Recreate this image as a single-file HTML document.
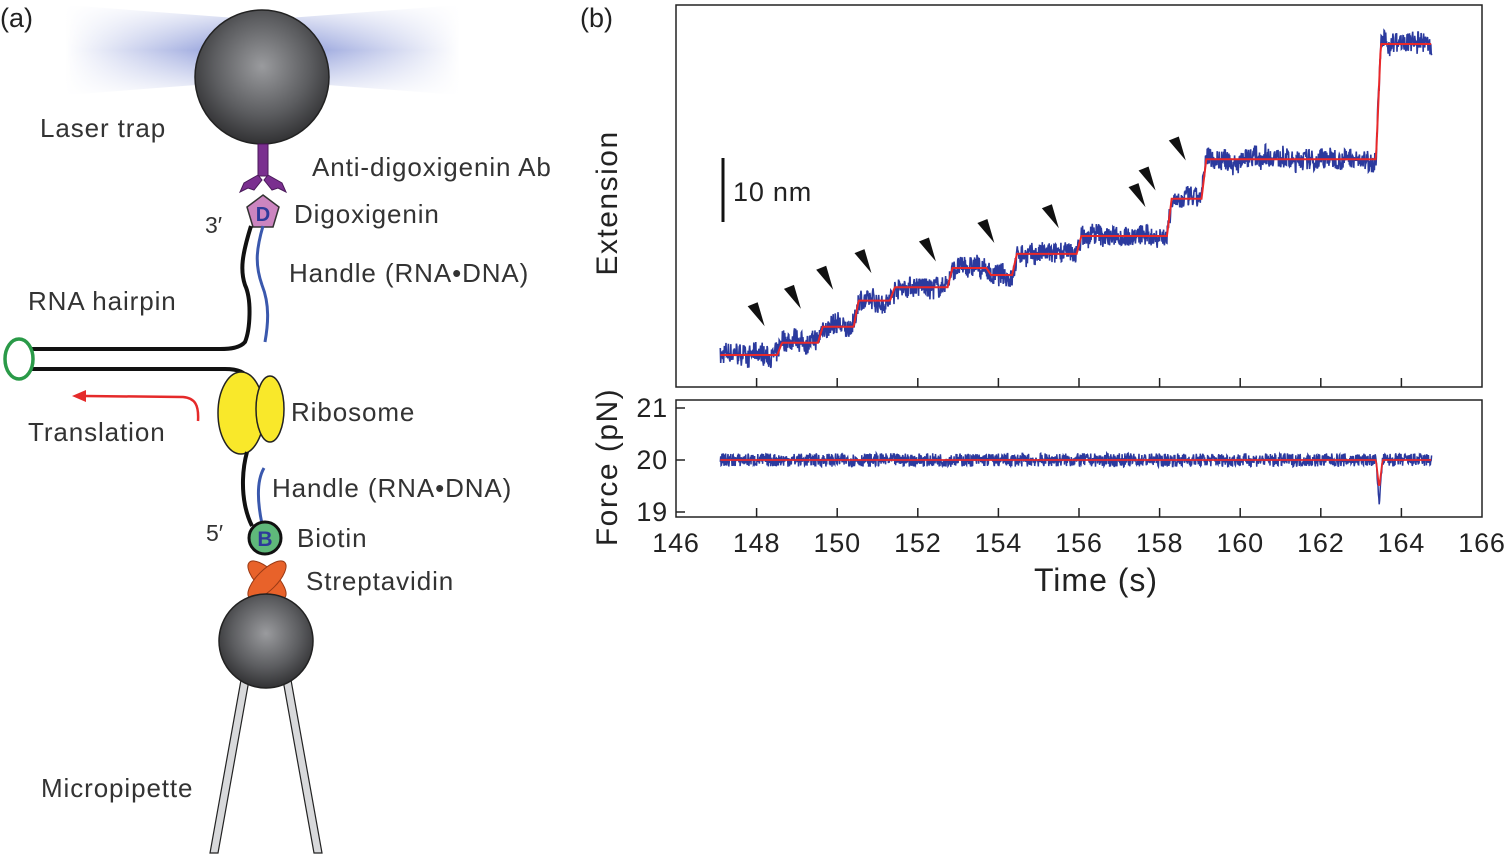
<!DOCTYPE html>
<html><head><meta charset="utf-8">
<style>
html,body{margin:0;padding:0;background:#fff;}
svg{display:block;font-family:"Liberation Sans",Arial,sans-serif;}
.lbl{font-size:26px;letter-spacing:0.9px;fill:#333;}
</style></head>
<body>
<svg id="fig" width="1506" height="855" viewBox="0 0 1506 855">
<defs>
<radialGradient id="bead" cx="0.5" cy="0.42" r="0.6">
<stop offset="0" stop-color="#9a9b9e"/><stop offset="0.6" stop-color="#5c5d60"/><stop offset="1" stop-color="#2e2e30"/>
</radialGradient>
<linearGradient id="glowL" x1="0" x2="1"><stop offset="0" stop-color="#5a6ec8" stop-opacity="0"/><stop offset="1" stop-color="#5a6ec8" stop-opacity="0.95"/></linearGradient>
<linearGradient id="glowR" x1="1" x2="0"><stop offset="0" stop-color="#5a6ec8" stop-opacity="0"/><stop offset="1" stop-color="#5a6ec8" stop-opacity="0.95"/></linearGradient>
<linearGradient id="glowV" x1="0" y1="0" x2="0" y2="1"><stop offset="0" stop-color="#fff" stop-opacity="0.95"/><stop offset="0.5" stop-color="#fff" stop-opacity="0"/><stop offset="1" stop-color="#fff" stop-opacity="0.95"/></linearGradient>
</defs>

<!-- Panel (a) -->
<g>
<text x="0" y="27" font-size="27" fill="#222">(a)</text>
<g>
<polygon points="65,5 262,20 262,80 65,95" fill="url(#glowL)" opacity="0.85"/>
<polygon points="460,5 262,20 262,80 460,95" fill="url(#glowR)" opacity="0.85"/>
<rect x="65" y="3" width="395" height="94" fill="url(#glowV)"/>
</g>
<circle cx="262" cy="77" r="67" fill="url(#bead)" stroke="#222" stroke-width="1.5"/>
<text x="40" y="137" class="lbl">Laser trap</text>
<g fill="#7a2f8f" stroke="#4a1a5a" stroke-width="1">
<rect x="258" y="144" width="10" height="32"/>
<polygon points="258,175 244,183 240,192 248,188 254,190 262,180"/>
<polygon points="268,175 282,183 286,192 278,188 272,190 264,180"/>
</g>
<text x="312" y="176" class="lbl">Anti-digoxigenin Ab</text>
<polygon points="263,195 279,207 273,227 253,227 247,207" fill="#cc85c0" stroke="#333" stroke-width="1.5"/>
<text x="263" y="221" font-size="20" font-weight="bold" fill="#2e3a9a" text-anchor="middle">D</text>
<text x="294" y="223" class="lbl">Digoxigenin</text>
<text x="205" y="233" font-size="23" fill="#333">3′</text>
<path d="M251,226 C242,255 240,270 245,285 C252,300 250,330 245,342 C240,348 230,349 220,349 L30,349" fill="none" stroke="#111" stroke-width="4"/>
<path d="M263,226 C256,250 255,265 262,285 C270,305 268,325 265,342" fill="none" stroke="#3a58ad" stroke-width="3"/>
<text x="289" y="282" class="lbl">Handle (RNA•DNA)</text>
<text x="28" y="310" class="lbl">RNA hairpin</text>
<path d="M30,369 L225,369 C238,369 245,372 250,380" fill="none" stroke="#111" stroke-width="4"/>
<ellipse cx="19" cy="359" rx="14" ry="20" fill="none" stroke="#2a9a48" stroke-width="3.5"/>
<g>
<ellipse cx="241" cy="413" rx="23" ry="41" fill="#f9e82a" stroke="#222" stroke-width="1.5"/>
<ellipse cx="270" cy="409" rx="14" ry="33" fill="#f9e82a" stroke="#222" stroke-width="1.5"/>
</g>
<text x="291" y="421" class="lbl">Ribosome</text>
<path d="M198,421 C199,405 195,398 183,397 L85,396" fill="none" stroke="#e52a2a" stroke-width="2.5"/>
<polygon points="72,396 86,390 86,402" fill="#e52a2a"/>
<text x="28" y="441" class="lbl">Translation</text>
<path d="M247,452 C242,470 242,490 245,505 C247,515 250,522 252,526" fill="none" stroke="#111" stroke-width="4"/>
<path d="M264,468 C257,480 257,500 262,524" fill="none" stroke="#3a58ad" stroke-width="3"/>
<text x="272" y="497" class="lbl">Handle (RNA•DNA)</text>
<text x="206" y="541" font-size="23" fill="#333">5′</text>
<circle cx="265" cy="538" r="16" fill="#5fb87a" stroke="#111" stroke-width="3"/>
<text x="265" y="546" font-size="21" font-weight="bold" fill="#2e3a9a" text-anchor="middle">B</text>
<text x="297" y="547" class="lbl">Biotin</text>
<g fill="#e8622a" stroke="#9a3a15" stroke-width="1">
<ellipse cx="267" cy="580" rx="25" ry="10" transform="rotate(45 267 580)"/>
<ellipse cx="267" cy="580" rx="25" ry="10" transform="rotate(-45 267 580)"/>
</g>
<text x="306" y="590" class="lbl">Streptavidin</text>
<g fill="#d8d9db" stroke="#222" stroke-width="1.2">
<polygon points="241,680 249,680 218,853 210,853"/>
<polygon points="283,680 291,680 322,853 314,853"/>
</g>
<circle cx="266" cy="641" r="47" fill="url(#bead)" stroke="#222" stroke-width="1.5"/>
<text x="41" y="797" class="lbl">Micropipette</text>
</g>

<!-- Panel (b) -->
<text x="580" y="27" font-size="27" fill="#222">(b)</text>
<rect x="676" y="5" width="806" height="382" fill="none" stroke="#222" stroke-width="1.5"/>
<rect x="676" y="400" width="806" height="117" fill="none" stroke="#222" stroke-width="1.5"/>
<g id="xticksTop"></g>
<g id="xticksBot"></g>
<g id="yticks"></g>
<g id="extTrace"></g>
<g id="forceTrace"></g>
<g id="arrows"></g>
<line x1="723" y1="158" x2="723" y2="222" stroke="#111" stroke-width="3"/>
<text x="733" y="201" font-size="27" letter-spacing="0.8" fill="#222">10 nm</text>
<text transform="translate(617,203) rotate(-90)" font-size="30" letter-spacing="1.5" fill="#222" text-anchor="middle">Extension</text>
<text transform="translate(617,467) rotate(-90)" font-size="30" letter-spacing="1.5" fill="#222" text-anchor="middle">Force (pN)</text>
<text x="1096" y="591" font-size="32" letter-spacing="1" fill="#222" text-anchor="middle">Time (s)</text>
</svg>
<script>
// Data
const xTicks = [146,148,150,152,154,156,158,160,162,164,166];
const forceTicks = [19,20,21];
const stepTimes = [147.1,148.57,149.58,150.47,151.37,152.8,153.76,154.4,156.0,158.24,159.1,163.43,164.75];
const stepLevels = [0,1.9,4.4,8.5,10.6,13.6,12.5,15.8,18.6,24.4,30.6,48.6];
const forceLevel = [20.0];
const forceDipTime = [163.45];
const forceDipValue = [19.15];
const arrowTimes = [148.2,149.1,149.9,150.85,152.45,153.9,155.5,157.65,157.9,158.65];
const arrowLevels = [4.5,7.2,10.2,12.8,14.6,17.5,19.8,23.1,25.7,30.4];

const NS = 'http://www.w3.org/2000/svg';
const sx = t => 676 + (t-146)*(806/20);
const sExt = v => 355 - v*6.4;
const sF = v => 460 - (v-20)*52;
function mk(tag, attrs, parent){const e=document.createElementNS(NS,tag);for(const k in attrs)e.setAttribute(k,attrs[k]);parent.appendChild(e);return e;}

const gT=document.getElementById('xticksTop'), gB=document.getElementById('xticksBot'), gY=document.getElementById('yticks');
xTicks.forEach((t,i)=>{
  if(i>0&&i<xTicks.length-1){
    const a=mk('line',{x1:sx(t),x2:sx(t),y1:387,y2:378,stroke:'#222','stroke-width':1.5},gT);
    
    
    const b=mk('line',{x1:sx(t),x2:sx(t),y1:517,y2:508,stroke:'#222','stroke-width':1.5},gB);
    
    
  }
  const l=mk('text',{x:sx(t),y:552,'font-size':27,'letter-spacing':0.8,fill:'#222','text-anchor':'middle'},gB);
  l.textContent=t;
  
  
});
forceTicks.forEach(v=>{
  const a=mk('line',{x1:676,x2:685,y1:sF(v),y2:sF(v),stroke:'#222','stroke-width':1.5},gY);
  
  
  const l=mk('text',{x:668,y:sF(v)+9,'font-size':27,'letter-spacing':0.8,fill:'#222','text-anchor':'end'},gY);
  l.textContent=v;
  
  
});

// deterministic texture jitter for raw trace
let seed=7;
function jit(){seed=(seed*16807)%2147483647;return (seed/2147483647)-0.5;}

const gE=document.getElementById('extTrace');
const t0=stepTimes[0], t1=stepTimes[stepTimes.length-1];
function levelAt(t){for(let i=stepLevels.length-1;i>=0;i--) if(t>=stepTimes[i]) return stepLevels[i];return stepLevels[0];}
function smoothAt(t){
  // short linear ramp across each step boundary
  const w=0.06;
  for(let i=1;i<stepLevels.length;i++){
    const s=stepTimes[i];
    if(Math.abs(t-s)<w){return stepLevels[i-1]+(stepLevels[i]-stepLevels[i-1])*((t-s+w)/(2*w));}
  }
  return levelAt(t);
}
let blue='', red='', wob=0;
for(let t=t0;t<=t1;t+=0.01){
  wob=wob*0.9+jit()*0.5;
  const v=smoothAt(t)+jit()*3.2+wob;
  blue+=(blue?'L':'M')+sx(t).toFixed(1)+','+sExt(v).toFixed(1);
}
for(let t=t0;t<=t1;t+=0.02){
  red+=(red?'L':'M')+sx(t).toFixed(1)+','+sExt(smoothAt(t)).toFixed(1);
}
const pb=mk('path',{d:blue,fill:'none',stroke:'#2b3a9e','stroke-width':1.6},gE);


const pr=mk('path',{d:red,fill:'none',stroke:'#e8282a','stroke-width':2},gE);



// Force traces
const gFo=document.getElementById('forceTrace');
let fb='', fr='';
for(let t=t0;t<=t1;t+=0.01){
  let v=forceLevel[0]+jit()*0.26;
  const d=Math.abs(t-forceDipTime[0]);
  if(d<0.08) v=forceLevel[0]+(forceDipValue[0]-forceLevel[0])*(1-d/0.08)+jit()*0.1;
  fb+=(fb?'L':'M')+sx(t).toFixed(1)+','+sF(v).toFixed(1);
}
for(let t=t0;t<=t1;t+=0.02){
  let v=forceLevel[0];
  const d=Math.abs(t-forceDipTime[0]);
  if(d<0.08) v=forceLevel[0]+(forceDipValue[0]+0.3-forceLevel[0])*(1-d/0.08);
  fr+=(fr?'L':'M')+sx(t).toFixed(1)+','+sF(v).toFixed(1);
}
const fpb=mk('path',{d:fb,fill:'none',stroke:'#2b3a9e','stroke-width':1.5},gFo);


const fpr=mk('path',{d:fr,fill:'none',stroke:'#e8282a','stroke-width':1.8},gFo);



// Arrowheads
const gA=document.getElementById('arrows');
arrowTimes.forEach((t,i)=>{
  const x=sx(t), y=sExt(arrowLevels[i]);
  const p=mk('polygon',{points:`${x},${y} ${x-17},${y-20} ${x-7},${y-24}`,fill:'#111'},gA);
  
  
});
</script>
</body></html>
